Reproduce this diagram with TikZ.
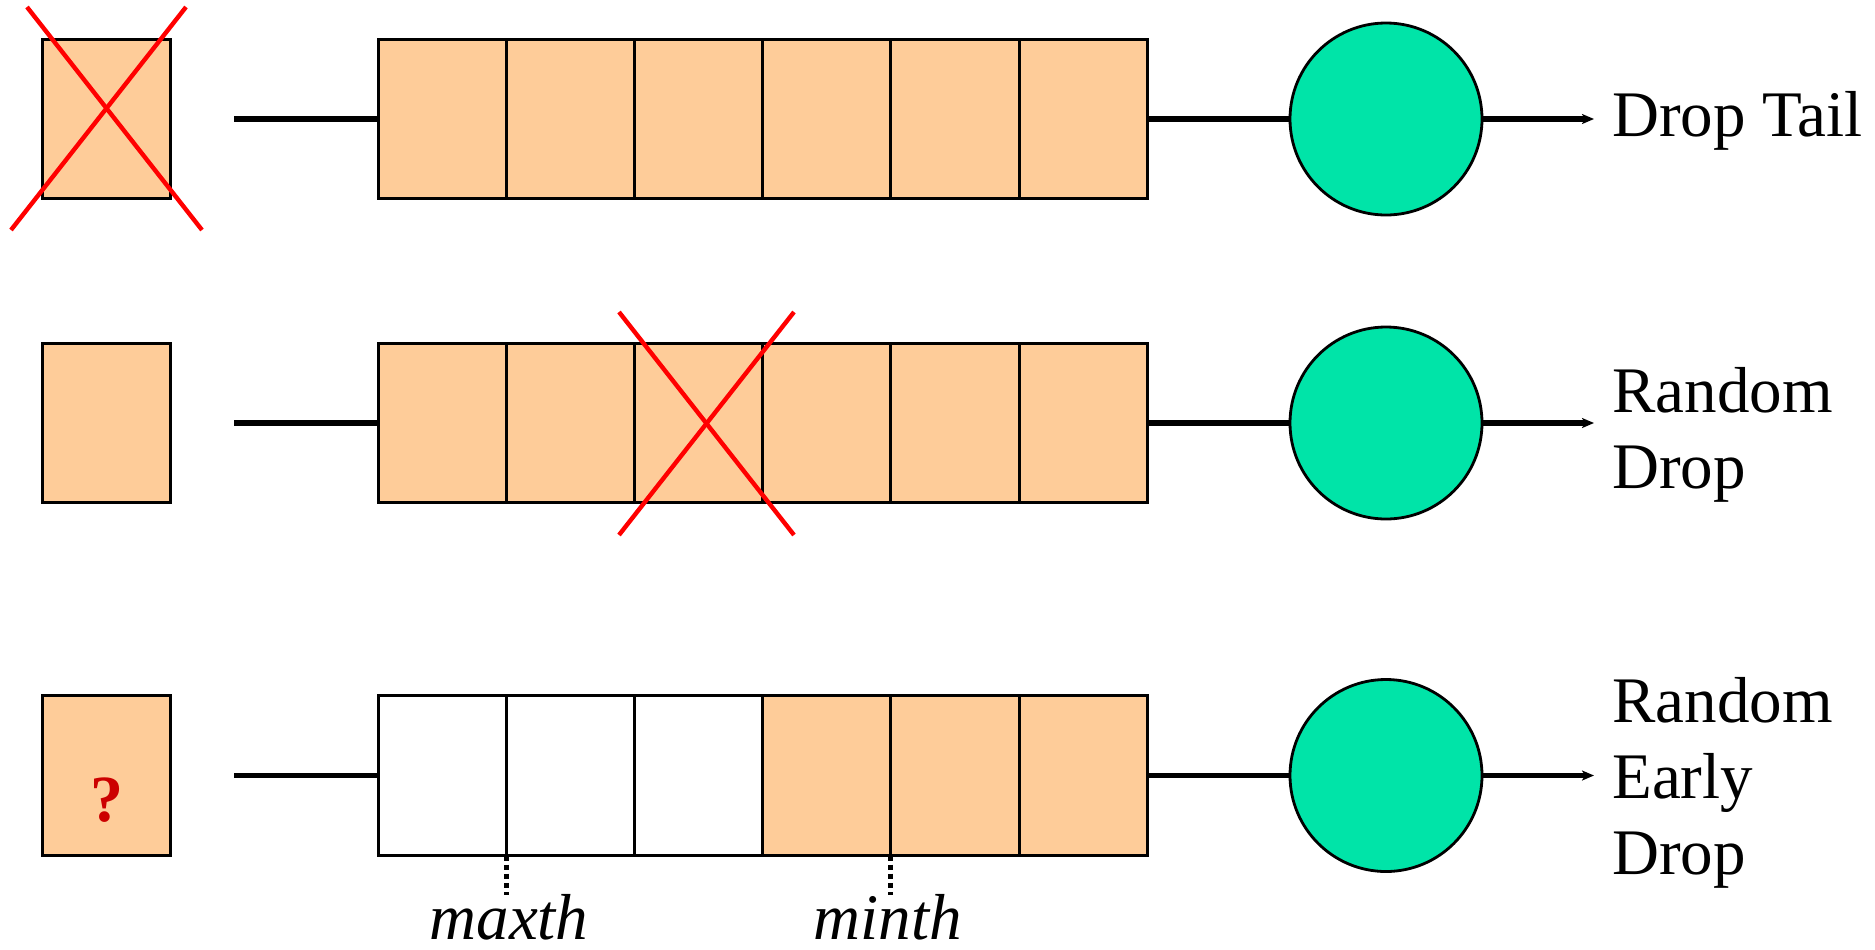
\documentclass[tikz,border=0pt]{standalone}
\usepackage{fontspec}
\setmainfont{Liberation Serif}
\usetikzlibrary{arrows.meta}
\definecolor{pktfill}{RGB}{254,204,153}
\definecolor{srvfill}{RGB}{0,228,168}
\definecolor{dropred}{RGB}{255,0,0}
\definecolor{qmark}{RGB}{204,0,0}
\begin{document}
\begin{tikzpicture}[x=0.5pt,y=-0.5pt,
  slot/.style={draw, line width=1.5pt, minimum width=64.1pt, minimum height=79.8pt,
               inner sep=0pt, outer sep=0pt},
  full/.style={slot, fill=pktfill},
  empty/.style={slot, fill=white},
  server/.style={circle, draw, line width=1.4pt, fill=srvfill, minimum size=96pt,
                 inner sep=0pt, outer sep=0pt},
  wire/.style={line width=2.6pt},
  outwire/.style={line width=2.6pt, -{Stealth[length=6pt,width=5pt,inset=1.5pt]}},
  cross/.style={draw=dropred, line width=2.2pt},
  lbl/.style={anchor=west, align=left, inner xsep=9pt, inner ysep=0pt,
              font=\fontsize{32.5}{38}\selectfont},
  thlbl/.style={font=\fontsize{32.5}{38}\selectfont\itshape, inner sep=0pt},
  marker/.style={line width=2.6pt, dash pattern=on 2.6pt off 2pt}
]
\useasboundingbox (0,0) rectangle (1875,949);

% ---------- Drop Tail ----------
\node[full] (p1) at (106.5,119) {};
\foreach \i in {1,...,6}
  \node[full] (a\i) at ({378+128.2*(\i-0.5)},119) {};
\node[server] (s1) at (1386,119) {};
\coordinate (in1) at (234,119);
\node[lbl] (t1) at (1594,121) {Drop Tail};
\draw[wire] (in1) -- (a1.west);
\draw[wire] (a6.east) -- (s1.west);
\draw[outwire] (s1.east) -- (s1.east -| t1.west);
\draw[cross] (27,7) -- (202,230);
\draw[cross] (186,7) -- (11,230);

% ---------- Random Drop ----------
\node[full] (p2) at (106.5,423) {};
\foreach \i in {1,...,6}
  \node[full] (b\i) at ({378+128.2*(\i-0.5)},423) {};
\node[server] (s2) at (1386,423) {};
\coordinate (in2) at (234,423);
\node[lbl] (t2) at (1594,435) {Random\\Drop};
\draw[wire] (in2) -- (b1.west);
\draw[wire] (b6.east) -- (s2.west);
\draw[outwire] (s2.east) -- (s2.east -| t2.west);
\draw[cross] (619,312) -- (794,535);
\draw[cross] (794,312) -- (619,535);

% ---------- Random Early Drop ----------
\node[full] (p3) at (106.5,775.5) {};
\node[text=qmark, font=\fontsize{33}{38}\selectfont\bfseries] (q) at (106.5,800) {?};
\foreach \i in {1,2,3}
  \node[empty] (c\i) at ({378+128.2*(\i-0.5)},775.5) {};
\foreach \i in {4,5,6}
  \node[full] (c\i) at ({378+128.2*(\i-0.5)},775.5) {};
\node[server] (s3) at (1386,775.5) {};
\coordinate (in3) at (234,775.5);
\node[lbl] (t3) at (1594,783) {Random\\Early\\Drop};
\draw[wire] (in3) -- (c1.west);
\draw[wire] (c6.east) -- (s3.west);
\draw[outwire] (s3.east) -- (s3.east -| t3.west);

% thresholds
\node[thlbl] (maxl) at (509,917) {maxth};
\node[thlbl] (minl) at (888,917) {minth};
\draw[marker] (c1.south east) -- ++(0,40);
\draw[marker] (c4.south east) -- ++(0,40);
\end{tikzpicture}
\end{document}
